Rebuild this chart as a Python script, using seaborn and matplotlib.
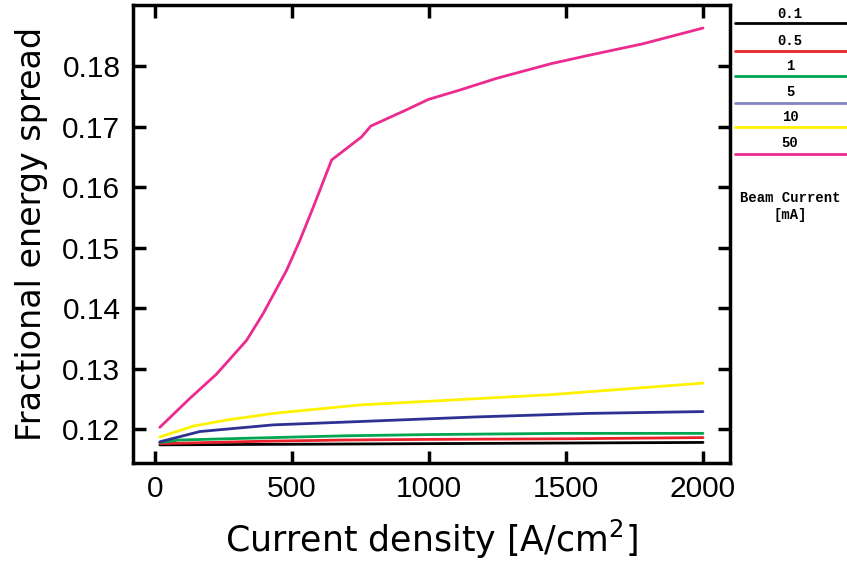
import pandas as pd
import matplotlib
matplotlib.use("Agg")
import matplotlib.pyplot as plt
from matplotlib.lines import Line2D
import seaborn as sns

# beam currents [mA]
currents = ["0.1", "0.5", "1", "5", "10", "50"]
colors = ["#000000", "#e8212a", "#00a651", "#2e3192", "#fff200", "#ec2a8f"]
legend_colors = ["#000000", "#e8212a", "#00a651", "#8486c2", "#fff200", "#ec2a8f"]

# current density [A/cm^2] and fractional energy spread per beam current
x_01 = [18, 1000, 2000]
y_01 = [0.1174, 0.1176, 0.1178]
x_05 = [18, 400, 700, 1000, 1500, 2000]
y_05 = [0.1176, 0.1180, 0.1182, 0.1183, 0.1184, 0.1186]
x_1 = [18, 90, 430, 700, 1000, 1500, 2000]
y_1 = [0.1178, 0.1182, 0.1186, 0.1189, 0.1191, 0.1193, 0.1193]
x_5 = [18, 164, 432, 774, 1164, 1584, 2000]
y_5 = [0.1179, 0.1196, 0.1207, 0.1213, 0.1220, 0.1226, 0.1229]
x_10 = [18, 140, 262, 432, 748, 998, 1445, 2000]
y_10 = [0.1187, 0.1205, 0.1215, 0.1226, 0.1240, 0.1246, 0.1257, 0.1276]
x_50 = [18, 128, 225, 335, 395, 481, 529, 578, 645, 754, 788, 914, 998,
        1109, 1248, 1445, 1584, 1781, 2000]
y_50 = [0.1203, 0.1251, 0.1291, 0.1347, 0.1391, 0.1463, 0.1512, 0.1567,
        0.1645, 0.1683, 0.1701, 0.1727, 0.1745, 0.1760, 0.1780, 0.1804,
        0.1818, 0.1837, 0.1863]

xs = [x_01, x_05, x_1, x_5, x_10, x_50]
ys = [y_01, y_05, y_1, y_5, y_10, y_50]
frames = []
for c, xv, yv in zip(currents, xs, ys):
    frames.append(pd.DataFrame({"density": xv, "spread": yv, "current": c}))
df = pd.concat(frames, ignore_index=True)

sns.set_style("ticks")
plt.rcParams["font.family"] = ["Liberation Sans", "DejaVu Sans"]
plt.rcParams["text.color"] = "black"
plt.rcParams["axes.labelcolor"] = "black"

fig = plt.figure(figsize=(8.47, 5.61), dpi=100)
ax = fig.add_axes([0.157, 0.1747, 0.705, 0.8163])

sns.lineplot(data=df, x="density", y="spread", hue="current",
             hue_order=currents, palette=colors, linewidth=2.0,
             legend=False, ax=ax, sort=False, estimator=None)

ax.set_xlim(-80, 2099)
ax.set_ylim(0.1144, 0.1901)
ax.set_xticks([0, 500, 1000, 1500, 2000])
ax.set_yticks([0.12, 0.13, 0.14, 0.15, 0.16, 0.17, 0.18])
ax.set_yticklabels(["0.12", "0.13", "0.14", "0.15", "0.16", "0.17", "0.18"])
ax.tick_params(direction="in", length=9, width=2.5, labelsize=21.5,
               top=True, right=True, pad=9, colors="black")
for s in ax.spines.values():
    s.set_linewidth(2.5)
    s.set_color("black")
ax.set_xlabel("Current density [A/cm$^2$]", fontsize=25, labelpad=10,
              family="DejaVu Sans", color="black")
ax.set_ylabel("Fractional energy spread", fontsize=24, labelpad=10,
              family="DejaVu Sans", color="black")

# manual legend to the right of the axes
W, H = 847.0, 561.0
text_y = [14, 40.7, 65.7, 91.7, 116.7, 142.7]
line_y = [23.3, 50.7, 76, 102.7, 127.3, 154]
for lab, col, ty, ly in zip(currents, legend_colors, text_y, line_y):
    fig.text(790 / W, 1 - ty / H, lab, ha="center", va="center",
             fontsize=10, fontweight="bold", family="Liberation Mono")
    fig.add_artist(Line2D([735 / W, 1.0], [1 - ly / H, 1 - ly / H],
                          color=col, linewidth=2.0, transform=fig.transFigure))
fig.text(790 / W, 1 - 198 / H, "Beam Current", ha="center", va="center",
         fontsize=10, fontweight="bold", family="Liberation Mono")
fig.text(790 / W, 1 - 215 / H, "[mA]", ha="center", va="center",
         fontsize=10, fontweight="bold", family="Liberation Mono")

fig.savefig("out.png", dpi=100)
